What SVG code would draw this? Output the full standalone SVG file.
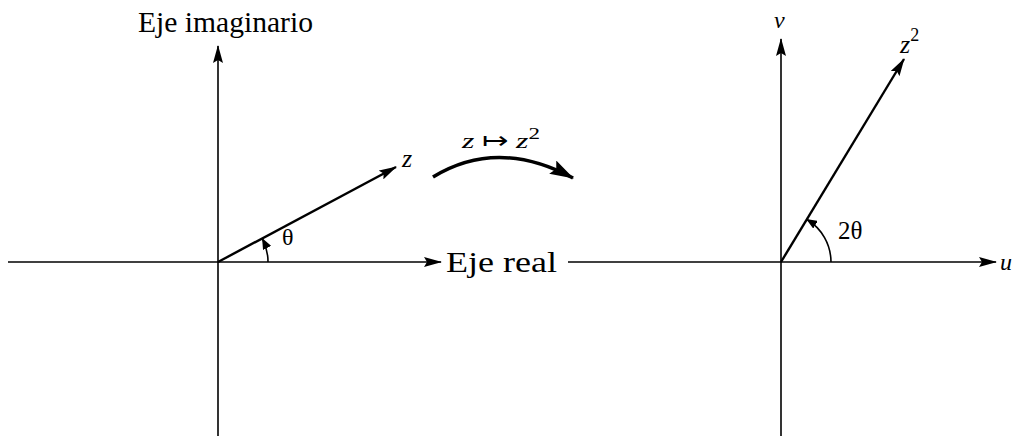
<svg xmlns="http://www.w3.org/2000/svg" width="1020" height="438" viewBox="0 0 1020 438">
<style>
.ax{stroke:#000;stroke-width:1.6;fill:none}
.vec{stroke:#000;stroke-width:2.4;fill:none}
.arc{stroke:#000;stroke-width:1.6;fill:none}
.t{font-family:"Liberation Serif","Times New Roman",serif;fill:#000}
.i{font-style:italic}
</style>
<defs>
<marker id="ah" viewBox="0 0 18 10" refX="17" refY="5" markerWidth="18" markerHeight="10" markerUnits="userSpaceOnUse" orient="auto">
<path d="M0,0 L18,5 L0,10 L3,5 Z" fill="#000"/>
</marker>
<marker id="ahs" viewBox="0 0 11 9" refX="10" refY="4.5" markerWidth="11" markerHeight="9" markerUnits="userSpaceOnUse" orient="auto">
<path d="M0,0 L11,4.5 L0,9 Z" fill="#000"/>
</marker>
<marker id="ahb" viewBox="0 0 24 15" refX="23" refY="7.5" markerWidth="24" markerHeight="15" markerUnits="userSpaceOnUse" orient="auto">
<path d="M0,0 L24,7.5 L0,15 L4,7.5 Z" fill="#000"/>
</marker>
</defs>
<rect width="1020" height="438" fill="#fff"/>
<g id="connectors">
<line class="ax" x1="8" y1="262" x2="441" y2="262" marker-end="url(#ah)"/>
<line class="ax" x1="218" y1="436" x2="218" y2="46" marker-end="url(#ah)"/>
<line class="vec" x1="218" y1="262" x2="396" y2="167" marker-end="url(#ah)"/>
<path class="arc" d="M268,262 A50,50 0 0,0 262.5,239" marker-end="url(#ahs)"/>
<path d="M433,177 Q497.5,137.5 573,178" stroke="#000" stroke-width="3.6" fill="none" marker-end="url(#ahb)"/>
<line class="ax" x1="568" y1="262" x2="996" y2="262" marker-end="url(#ah)"/>
<line class="ax" x1="781" y1="436" x2="781" y2="39" marker-end="url(#ah)"/>
<line class="vec" x1="781" y1="262" x2="904" y2="59" marker-end="url(#ah)"/>
<path class="arc" d="M831,262 A50,50 0 0,0 807,219.5" marker-end="url(#ahs)"/>
</g>
<g id="label-eje-imaginario"><text class="t" x="138" y="32" font-size="29" textLength="175" lengthAdjust="spacingAndGlyphs">Eje imaginario</text></g>
<g id="label-eje-real"><text class="t" x="446" y="272" font-size="29" textLength="111" lengthAdjust="spacingAndGlyphs">Eje real</text></g>
<g id="label-z"><text class="t i" x="402" y="167" font-size="26">z</text></g>
<g id="label-theta"><text class="t" x="282" y="245" font-size="24">θ</text></g>
<g id="label-map"><text class="t" x="462" y="148" font-size="22" textLength="78" lengthAdjust="spacingAndGlyphs"><tspan class="i">z</tspan> ↦ <tspan class="i">z</tspan><tspan font-size="16" dy="-9">2</tspan></text></g>
<g id="label-v"><text class="t i" x="774" y="28" font-size="24">v</text></g>
<g id="label-z2"><text class="t" x="900" y="53" font-size="26"><tspan class="i">z</tspan><tspan font-size="18" dy="-12">2</tspan></text></g>
<g id="label-2theta"><text class="t" x="838" y="239" font-size="25">2θ</text></g>
<g id="label-u"><text class="t i" x="1000" y="270" font-size="24">u</text></g>
</svg>
